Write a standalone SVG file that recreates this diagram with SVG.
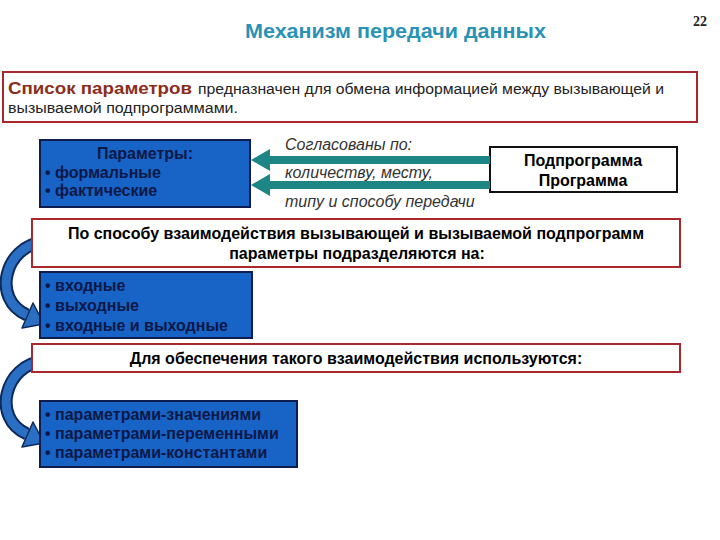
<svg xmlns="http://www.w3.org/2000/svg" width="720" height="540" viewBox="0 0 720 540">
<style>
.t{font-family:"Liberation Sans",Arial,sans-serif}
.title{font-size:21px;font-weight:bold;fill:#2a93b5}
.redbox{fill:#fff;stroke:#a8282c;stroke-width:2}
.bluebox{fill:#1763c6;stroke:#0e1d4d;stroke-width:2}
.bt{font-size:16px;font-weight:bold;fill:#0c1846}
.rt{font-size:16px;font-weight:bold;fill:#000}
.it{font-size:16px;font-style:italic;fill:#333}
</style>
<defs>
<g id="carrow">
<path d="M43 242 C5 246,-9 299,27 315" fill="none" stroke="#0e2a5a" stroke-width="13"/>
<path d="M43 242 C5 246,-9 299,27 315" fill="none" stroke="#2a6fc4" stroke-width="9"/>
<polygon points="44,324 22,328 33,303" fill="#2a6fc4" stroke="#0e2a5a" stroke-width="1.5" stroke-linejoin="round"/>
</g>
</defs>
<rect width="720" height="540" fill="#fff"/>
<text class="t title" x="245" y="38" textLength="301" lengthAdjust="spacingAndGlyphs">Механизм передачи данных</text>
<text x="700" y="26" font-family="Liberation Serif,serif" font-size="14" font-weight="bold" fill="#222" text-anchor="middle">22</text>

<g id="intro">
<rect class="redbox" x="3" y="72" width="694" height="50"/>
<text class="t" x="8" y="94" font-size="17" font-weight="bold" fill="#8b2d1c" textLength="184" lengthAdjust="spacingAndGlyphs">Список параметров</text>
<text class="t" x="198" y="94" font-size="15.5" fill="#222" textLength="466" lengthAdjust="spacingAndGlyphs">предназначен для обмена информацией между вызывающей и</text>
<text class="t" x="8" y="113" font-size="15.5" fill="#222" textLength="230" lengthAdjust="spacingAndGlyphs">вызываемой подпрограммами.</text>
</g>

<g id="params">
<rect class="bluebox" x="40" y="140" width="210" height="67"/>
<text class="t bt" x="145" y="159" text-anchor="middle">Параметры:</text>
<text class="t bt" x="45" y="178">• формальные</text>
<text class="t bt" x="45" y="196">• фактические</text>
</g>

<g id="prog">
<rect x="490" y="147" width="187" height="45" fill="#fff" stroke="#111" stroke-width="2"/>
<text class="t rt" x="583" y="166" text-anchor="middle">Подпрограмма</text>
<text class="t rt" x="583" y="186" text-anchor="middle">Программа</text>
</g>

<g id="connectors">
<polygon points="490,156 270,156 270,149 251,160 270,171 270,164 490,164" fill="#1e8585"/>
<polygon points="490,181 270,181 270,174 251,185 270,196 270,189 490,189" fill="#1e8585"/>
<use href="#carrow"/>
<use href="#carrow" transform="translate(0,119)"/>
</g>
<text class="t it" x="285" y="150">Согласованы по:</text>
<text class="t it" x="285" y="178">количеству, месту,</text>
<text class="t it" x="285" y="207">типу и способу передачи</text>

<g id="ways">
<rect class="redbox" x="32" y="219" width="648" height="48"/>
<text class="t rt" x="356" y="239" text-anchor="middle">По способу взаимодействия вызывающей и вызываемой подпрограмм</text>
<text class="t rt" x="357" y="259" text-anchor="middle">параметры подразделяются на:</text>
</g>

<g id="kinds">
<rect class="bluebox" x="40" y="272" width="212" height="66"/>
<text class="t bt" x="45" y="291">• входные</text>
<text class="t bt" x="45" y="311">• выходные</text>
<text class="t bt" x="45" y="331">• входные и выходные</text>
</g>

<g id="means">
<rect class="redbox" x="32" y="344" width="648" height="28"/>
<text class="t rt" x="356" y="364" text-anchor="middle">Для обеспечения такого взаимодействия используются:</text>
</g>

<g id="passing">
<rect class="bluebox" x="40" y="401" width="257" height="66"/>
<text class="t bt" x="45" y="420">• параметрами-значениями</text>
<text class="t bt" x="45" y="439">• параметрами-переменными</text>
<text class="t bt" x="45" y="458">• параметрами-константами</text>
</g>
</svg>
